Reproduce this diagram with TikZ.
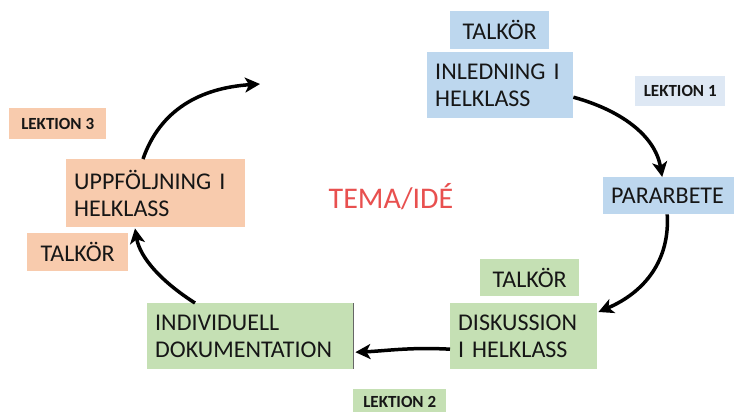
\documentclass[tikz,border=0pt]{standalone}
\usepackage{fontspec}
\setmainfont{Carlito}
\usetikzlibrary{arrows.meta}
\definecolor{bblue}{HTML}{BDD7EE}
\definecolor{lblue}{HTML}{DEE8F4}
\definecolor{borange}{HTML}{F8CBAD}
\definecolor{bgreen}{HTML}{C5E0B4}
\definecolor{ink}{HTML}{161616}
\definecolor{temared}{HTML}{E8504F}
\tikzset{
  bx/.style={rectangle, anchor=north west, inner xsep=8pt, inner ysep=0pt,
    font=\fontsize{24}{27}\selectfont, text=ink, align=left},
  lek/.style={rectangle, anchor=north west, inner sep=0pt, align=center,
    font=\fontsize{17}{19}\selectfont\bfseries, text=ink},
  arr/.style={line width=3.5pt, -{Stealth[length=15pt,width=15pt,inset=4pt]}}
}
\begin{document}
\begin{tikzpicture}[x=1pt,y=-1pt]
\useasboundingbox (0,0) rectangle (734,412);
% blue group
\node[bx, fill=bblue, align=center, text width=83pt, minimum height=38pt] (talka) at (450,11) {TALKÖR};
\node[bx, fill=bblue, text width=130pt, minimum height=66pt] (inl) at (427,52) {INLEDNING I\\HELKLASS};
\node[lek, fill=lblue, minimum width=90pt, minimum height=30pt] (lek1) at (635,76) {LEKTION 1};
\node[bx, fill=bblue, text width=115pt, minimum height=37pt] (par) at (603,177) {PARARBETE};
% green group
\node[bx, fill=bgreen, align=center, text width=83pt, minimum height=37pt] (talkb) at (480,259) {TALKÖR};
\node[bx, fill=bgreen, text width=131pt, minimum height=66pt] (disk) at (450,303) {DISKUSSION\\I HELKLASS};
\node[bx, fill=bgreen, text width=190pt, minimum height=66pt] (ind) at (147,303) {INDIVIDUELL\\DOKUMENTATION};
\draw[black!60, line width=1.3pt] (ind.north east) -- (ind.south east);
\node[lek, fill=bgreen, minimum width=93pt, minimum height=26pt] (lek2) at (353,389) {LEKTION 2};
% orange group
\node[lek, fill=borange, minimum width=97pt, minimum height=31pt] (lek3) at (9,108) {LEKTION 3};
\node[bx, fill=borange, text width=163pt, minimum height=68pt] (upp) at (66,159) {UPPFÖLJNING I\\HELKLASS};
\node[bx, fill=borange, align=center, text width=85pt, minimum height=38pt] (talkc) at (27,233) {TALKÖR};
% centre
\node[font=\fontsize{30}{32}\selectfont, text=temared] (tema) at (391,197) {TEMA/IDÉ};
% arrows
\coordinate (etip) at (260,84);
\draw[arr] ([yshift=-12pt]inl.east) .. controls (620,110) and (655,135) .. ([xshift=-6.5pt]par.north);
\draw[arr] ([xshift=-1.5pt]par.south) .. controls (670,260) and (645,292) .. ([shift={(1pt,-9pt)}]disk.north east);
\draw[arr] ([yshift=-13pt]disk.west) .. controls (410,347) and (385,351) .. ([shift={(2pt,-16pt)}]ind.east);
\draw[arr] ([xshift=48pt]ind.north west) .. controls (162,282) and (140,258) .. ([shift={(69pt,-1pt)}]upp.south west);
\draw[arr] ([xshift=77pt]upp.north west) .. controls (160,110) and (200,88) .. (etip);
\end{tikzpicture}
\end{document}
